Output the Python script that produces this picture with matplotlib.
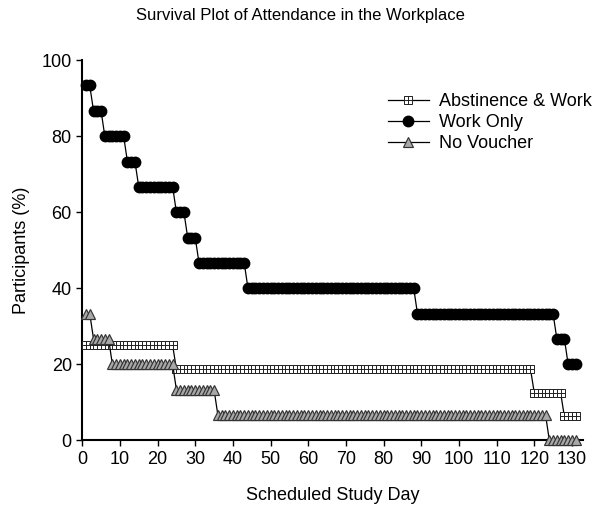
"""
Survival plot of attendance in the workplace
"""

import numpy as np
import matplotlib
matplotlib.use("Agg")
import matplotlib.pyplot as plt
from matplotlib.path import Path

plt.rcParams["font.family"] = ["Liberation Sans", "DejaVu Sans"]

# 각 그룹: 단계가 시작되는 날과 그 단계의 참여율 (%)
last_day = 131

abst_start = [1, 25, 120, 128]
abst_level = [25.0, 18.75, 12.5, 6.25]

work_start = [1, 3, 6, 12, 15, 25, 28, 31, 44, 89, 126, 129]
work_level = [93.3, 86.7, 80.0, 73.3, 66.7, 60.0, 53.3, 46.7, 40.0, 33.3, 26.7, 20.0]

novo_start = [1, 3, 8, 25, 36, 124]
novo_level = [33.3, 26.7, 20.0, 13.3, 6.7, 0.0]

x_ticks = list(range(0, 131, 10))
y_ticks = [0, 20, 40, 60, 80, 100]


def expand_steps(starts, levels, end):
    """단계 구간을 하루 단위 값으로 펼침"""
    bounds = list(starts) + [end + 1]
    days = np.arange(starts[0], end + 1)
    counts = np.diff(bounds)
    vals = np.repeat(levels, counts)
    return days, vals


# 사각형 + 십자 마커
grid_sq = Path(
    [(-1, -1), (1, -1), (1, 1), (-1, 1), (-1, -1),
     (0, -1), (0, 1), (-1, 0), (1, 0)],
    [Path.MOVETO, Path.LINETO, Path.LINETO, Path.LINETO, Path.CLOSEPOLY,
     Path.MOVETO, Path.LINETO, Path.MOVETO, Path.LINETO],
)

fig = plt.figure(figsize=(6.0, 5.13), dpi=100)
ax = fig.add_axes([0.137, 0.142, 0.835, 0.741])

d, v = expand_steps(abst_start, abst_level, last_day)
ax.plot(d, v, color="black", lw=0.9, marker=grid_sq, markersize=6,
        markerfacecolor="white", markeredgecolor="#222222", markeredgewidth=0.7,
        label="Abstinence & Work", clip_on=False, zorder=3)

d, v = expand_steps(work_start, work_level, last_day)
ax.plot(d, v, color="black", lw=0.9, marker="o", markersize=7.5,
        markerfacecolor="black", markeredgecolor="black",
        label="Work Only", clip_on=False, zorder=4)

d, v = expand_steps(novo_start, novo_level, last_day)
ax.plot(d, v, color="black", lw=0.9, marker="^", markersize=7.5,
        markerfacecolor="#a8a8a8", markeredgecolor="#333333", markeredgewidth=0.85,
        label="No Voucher", clip_on=False, zorder=3)

ax.set_xlim(0, 133)
ax.set_ylim(0, 100)
ax.set_xticks(x_ticks)
ax.set_yticks(y_ticks)
ax.tick_params(labelsize=13, length=4, width=1, direction="out")
for side in ["top", "right"]:
    ax.spines[side].set_visible(False)
for side in ["left", "bottom"]:
    ax.spines[side].set_linewidth(1.5)

ax.set_xlabel("Scheduled Study Day", fontsize=13, labelpad=14)
ax.set_ylabel("Participants (%)", fontsize=13, labelpad=8)
fig.suptitle("Survival Plot of Attendance in the Workplace", fontsize=12, y=0.985)

ax.legend(loc="upper left", bbox_to_anchor=(0.646, 0.818), bbox_transform=fig.transFigure,
          frameon=False, fontsize=13, borderpad=0, borderaxespad=0,
          handlelength=2.3, handletextpad=0.55, labelspacing=0.22)

fig.savefig("out.png", dpi=100)
